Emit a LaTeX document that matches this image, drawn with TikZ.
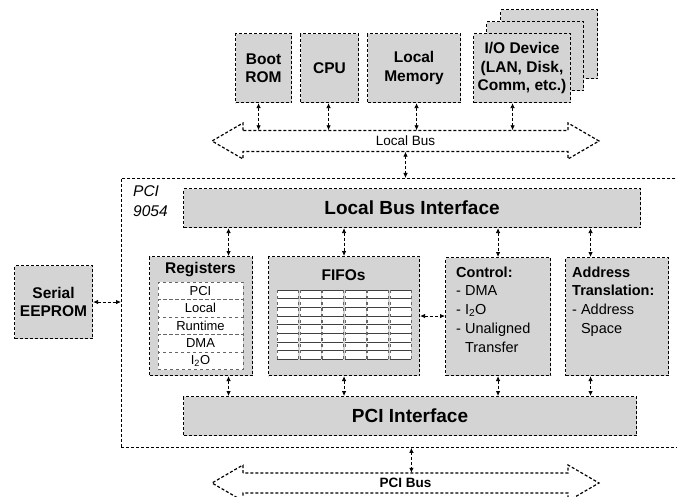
\documentclass[tikz,border=0pt]{standalone}
\usepackage{fontspec}
\setmainfont{Liberation Sans}
\usetikzlibrary{arrows.meta,calc}
\tikzset{
  blk/.style={draw=black, fill=black!17, line width=1.1pt, densely dashed, inner sep=0pt, anchor=north west},
  ttl/.style={font=\fontsize{15.5}{18.5}\selectfont\bfseries, align=center},
  big/.style={font=\fontsize{19}{22}\selectfont\bfseries, align=center},
  body/.style={font=\fontsize{14.5}{18.7}\selectfont, align=left, inner sep=0pt, anchor=north west},
  conn/.style={densely dashed, line width=0.8pt, {Latex[length=5pt,width=4.5pt]}-{Latex[length=5pt,width=4.5pt]}},
  cell/.style={draw=black!60, dashed, line width=0.4pt, fill=white, minimum width=85pt, minimum height=17.5pt, inner sep=0pt, font=\fontsize{13}{13}\selectfont},
  bus/.style={draw=black, fill=white, line width=1.2pt, densely dashed},
  frame/.style={draw=black, densely dashed, line width=0.8pt, inner sep=0pt, anchor=north west},
}
\begin{document}
\begin{tikzpicture}[x=1pt,y=-1pt]
\useasboundingbox[fill=white] (0,0) rectangle (677,497);

% chip frame
\node[frame, minimum width=580pt, minimum height=269pt] (chip) at (121,178) {};
\node[inner sep=0pt, anchor=north west, align=left, font=\fontsize{15.5}{20}\selectfont\itshape] (chipt) at (133,185) {PCI\\9054};

% top devices
\node[blk, minimum width=56pt, minimum height=69pt, ttl] (boot) at (235,33) {Boot\\ROM};
\node[blk, minimum width=58pt, minimum height=69pt, ttl] (cpu) at (300,33) {CPU};
\node[blk, minimum width=93pt, minimum height=69pt, ttl] (lmem) at (367,33) {Local\\Memory};
\node[blk, minimum width=97pt, minimum height=69pt] (io3) at (500,9) {};
\node[blk, minimum width=97pt, minimum height=69pt] (io2) at (486,21) {};
\node[blk, minimum width=97pt, minimum height=69pt, ttl] (io) at (473,33) {I/O Device\\(LAN, Disk,\\Comm, etc.)};

% local bus
\draw[bus] (243,130.5) -- (243,123) -- (212,141) -- (243,159) -- (243,151.5) -- (568,151.5)
  -- (568,159) -- (599,141) -- (568,123) -- (568,130.5) -- cycle;
\node[minimum width=325pt, minimum height=21pt, inner sep=0pt, font=\fontsize{13.5}{14}\selectfont] (lbus) at (405.5,141) {Local Bus};

% pci bus
\draw[bus] (243,473) -- (243,465) -- (212,483) -- (243,501) -- (243,493) -- (568,493)
  -- (568,501) -- (599,483) -- (568,465) -- (568,473) -- cycle;
\node[minimum width=325pt, minimum height=20pt, inner sep=0pt, font=\fontsize{13.5}{14}\selectfont\bfseries] (pbus) at (405.5,483) {PCI Bus};

% serial eeprom
\node[blk, minimum width=78pt, minimum height=73pt, ttl] (eeprom) at (14,265) {Serial\\EEPROM};

% interfaces
\node[blk, minimum width=457pt, minimum height=39pt, big] (lbi) at (183,188) {Local Bus Interface};
\node[blk, minimum width=453pt, minimum height=39pt, big] (pcii) at (183,396) {PCI Interface};

% inner blocks
\node[blk, minimum width=103pt, minimum height=119pt] (reg) at (149,256) {};
\node[blk, minimum width=151pt, minimum height=119pt] (fifo) at (268,256) {};
\node[blk, minimum width=105pt, minimum height=118pt] (ctrl) at (445,257) {};
\node[blk, minimum width=103pt, minimum height=118pt] (addr) at (565,257) {};

\node[ttl] (regt) at (200.5,270) {Registers};
\node[ttl] (fifot) at (343.5,275) {FIFOs};

% register table
\node[cell] (r1) at (200.5,290.75) {PCI};
\node[cell] (r2) at (200.5,308.25) {Local};
\node[cell] (r3) at (200.5,325.75) {Runtime};
\node[cell] (r4) at (200.5,343.25) {DMA};
\node[cell] (r5) at (200.5,360.75) {I\textsubscript{2}O};

% fifo grid
\foreach \x in {277.3,299.8,322.3,344.8,367.3,389.8}{
  \fill[white] (\x,290) rectangle ++(21,69);
  \foreach \k in {0,...,8}{
    \draw[black!75, line width=0.5pt] (\x,290+8.625*\k) -- ++(21,0);
  }
  \draw[black!60, dashed, line width=0.4pt] (\x,290) -- ++(0,69);
  \draw[black!60, dashed, line width=0.4pt] (\x+21,290) -- ++(0,69);
}

% control & address text
\node[body] (ctrlt) at (456,266.5) {\textbf{Control:}\\- DMA\\- I\textsubscript{2}O\\- Unaligned\\\phantom{- }Transfer};
\node[body] (addrt) at (572,266.5) {\textbf{Address}\\\textbf{Translation:}\\- Address\\\phantom{- }Space};

% connectors: devices to local bus
\coordinate (cb) at ($(boot.south)+(-5,0)$);
\coordinate (cc) at ($(cpu.south)+(-1,0)$);
\coordinate (cm) at ($(lmem.south)+(2.5,0)$);
\coordinate (ci) at ($(io.south)+(-9.5,0)$);
\draw[conn] (cb) -- (cb |- lbus.north);
\draw[conn] (cc) -- (cc |- lbus.north);
\draw[conn] (cm) -- (cm |- lbus.north);
\draw[conn] (ci) -- (ci |- lbus.north);
\draw[conn] (lbus.south) -- (lbus.south |- chip.north);

% LBI to blocks
\coordinate (rn) at ($(reg.north)+(27.5,0)$);
\coordinate (an) at ($(addr.north)+(-26.5,0)$);
\draw[conn] (rn |- lbi.south) -- (rn);
\draw[conn] (fifo.north |- lbi.south) -- (fifo.north);
\draw[conn] (ctrl.north |- lbi.south) -- (ctrl.north);
\draw[conn] (an |- lbi.south) -- (an);

% blocks to PCI interface
\coordinate (rs) at ($(reg.south)+(27.5,0)$);
\coordinate (as) at ($(addr.south)+(-26.5,0)$);
\draw[conn] (rs) -- (rs |- pcii.north);
\draw[conn] (fifo.south) -- (fifo.south |- pcii.north);
\draw[conn] (ctrl.south) -- (ctrl.south |- pcii.north);
\draw[conn] (as) -- (as |- pcii.north);

% others
\draw[conn] (fifo.east) -- (fifo.east -| ctrl.west);
\draw[conn] (eeprom.east) -- (eeprom.east -| chip.west);
\draw[conn] (chip.south) -- (chip.south |- pbus.north);
\end{tikzpicture}
\end{document}
